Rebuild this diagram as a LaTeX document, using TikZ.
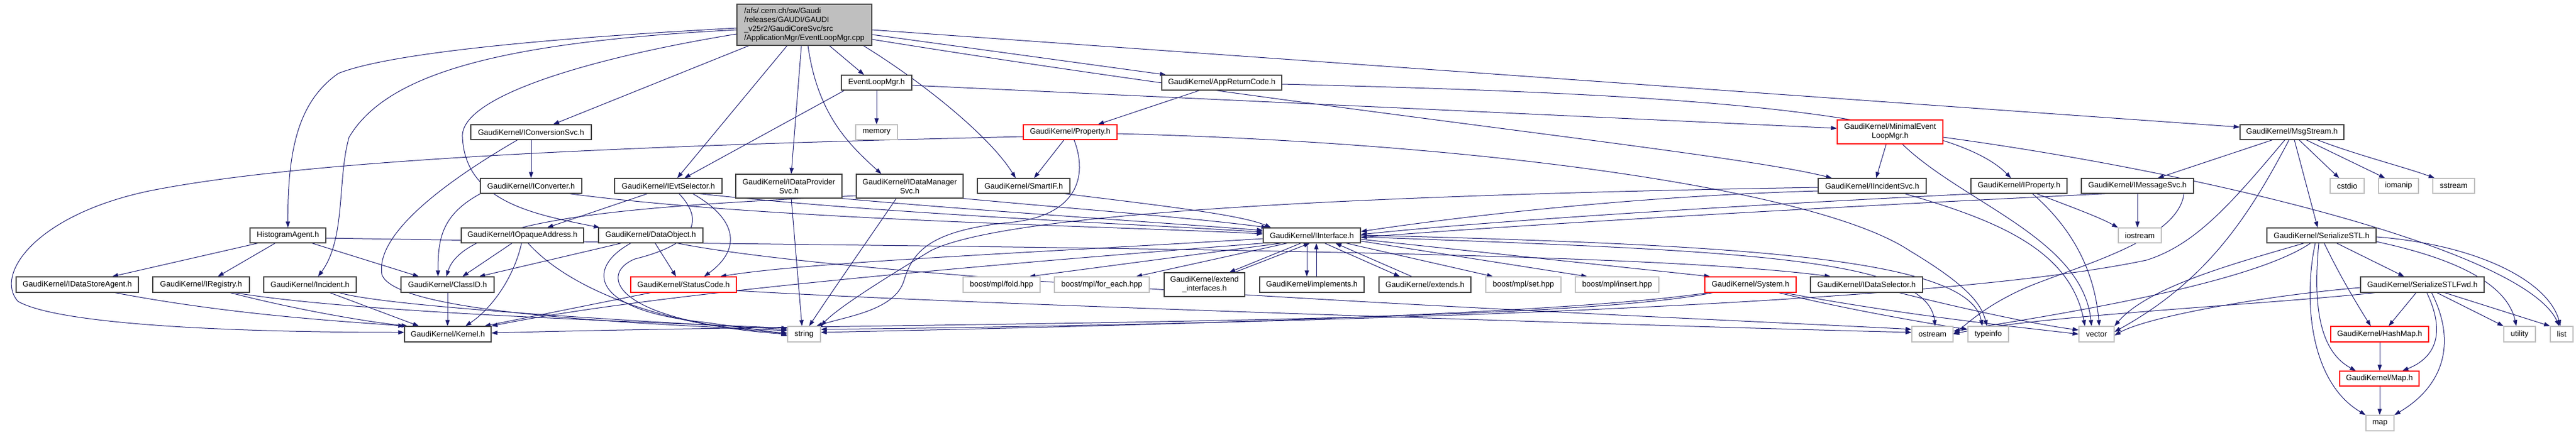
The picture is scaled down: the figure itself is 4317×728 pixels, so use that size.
\documentclass[tikz,border=0pt]{standalone}
\usepackage{fontspec}
\setmainfont{Liberation Sans}
\usetikzlibrary{arrows.meta}
\definecolor{edgec}{HTML}{191970}
\definecolor{grayb}{HTML}{BFBFBF}
\definecolor{darkb}{HTML}{404040}
\pgfdeclarelayer{bg}
\pgfsetlayers{bg,main}
\tikzset{
  nb/.style={draw=darkb, line width=1.2pt, fill=white, inner sep=0pt, align=center, font=\fontsize{13}{15}\selectfont},
  ng/.style={nb, draw=grayb},
  nr/.style={nb, draw=red},
  nroot/.style={nb, fill=grayb, align=left},
  e/.style={draw=edgec, line width=1pt, -{Triangle[length=10pt,width=7pt]}},
}
\newcommand{\bx}[7]{\node[#2, minimum width={(#4-#3)*1pt}, minimum height={(#6-#5)*1pt}] (#1) at ({(#3+#4)/2},{(#5+#6)/2}) {#7};}
\begin{document}
\begin{tikzpicture}[x=1pt,y=-1pt]
\useasboundingbox (0,0) rectangle (4317,728);
% nodes
\bx{R}{nroot}{1235}{1461}{7}{76}{/afs/.cern.ch/sw/Gaudi\\/releases/GAUDI/GAUDI\\\_v25r2/GaudiCoreSvc/src\\/ApplicationMgr/EventLoopMgr.cpp}
\bx{ELM}{nb}{1410}{1528}{126}{151}{EventLoopMgr.h}
\bx{ARC}{nb}{1947}{2148}{126}{151}{GaudiKernel/AppReturnCode.h}
\bx{ICS}{nb}{789}{991}{209}{234}{GaudiKernel/IConversionSvc.h}
\bx{mem}{ng}{1434}{1504}{209}{234}{memory}
\bx{P}{nr}{1715}{1872}{209}{234}{GaudiKernel/Property.h}
\bx{MEL}{nr}{3079}{3256}{201}{241}{GaudiKernel/MinimalEvent\\LoopMgr.h}
\bx{MS}{nb}{3754}{3928}{209}{234}{GaudiKernel/MsgStream.h}
\bx{ICv}{nb}{805}{975}{299}{324}{GaudiKernel/IConverter.h}
\bx{IES}{nb}{1030}{1210}{299}{324}{GaudiKernel/IEvtSelector.h}
\bx{IDP}{nb}{1233}{1411}{292}{332}{GaudiKernel/IDataProvider\\Svc.h}
\bx{IDM}{nb}{1435}{1614}{292}{332}{GaudiKernel/IDataManager\\Svc.h}
\bx{SIF}{nb}{1638}{1793}{299}{324}{GaudiKernel/SmartIF.h}
\bx{IIS}{nb}{3047}{3228}{299}{324}{GaudiKernel/IIncidentSvc.h}
\bx{IP}{nb}{3303}{3464}{299}{324}{GaudiKernel/IProperty.h}
\bx{IMS}{nb}{3488}{3676}{299}{324}{GaudiKernel/IMessageSvc.h}
\bx{cstdio}{ng}{3905}{3962}{299}{324}{cstdio}
\bx{iomanip}{ng}{3986}{4053}{299}{324}{iomanip}
\bx{sstream}{ng}{4077}{4147}{299}{324}{sstream}
\bx{HA}{nb}{419}{546}{382}{407}{HistogramAgent.h}
\bx{IOA}{nb}{773}{978}{382}{407}{GaudiKernel/IOpaqueAddress.h}
\bx{DO}{nb}{1003}{1178}{382}{407}{GaudiKernel/DataObject.h}
\bx{II}{nb}{2117}{2280}{382}{407}{GaudiKernel/IInterface.h}
\bx{iostream}{ng}{3550}{3622}{382}{407}{iostream}
\bx{SSTL}{nb}{3799}{3982}{382}{407}{GaudiKernel/SerializeSTL.h}
\bx{IDSA}{nb}{27}{232}{464}{490}{GaudiKernel/IDataStoreAgent.h}
\bx{IReg}{nb}{256}{418}{464}{490}{GaudiKernel/IRegistry.h}
\bx{Inc}{nb}{442}{597}{464}{490}{GaudiKernel/Incident.h}
\bx{CID}{nb}{672}{828}{464}{490}{GaudiKernel/ClassID.h}
\bx{SC}{nr}{1057}{1234}{464}{490}{GaudiKernel/StatusCode.h}
\bx{fold}{ng}{1614}{1743}{464}{490}{boost/mpl/fold.hpp}
\bx{foreach}{ng}{1767}{1926}{464}{490}{boost/mpl/for\_each.hpp}
\bx{EI}{nb}{1951}{2086}{457}{497}{GaudiKernel/extend\\\_interfaces.h}
\bx{Impl}{nb}{2111}{2286}{464}{490}{GaudiKernel/implements.h}
\bx{Ext}{nb}{2311}{2465}{464}{490}{GaudiKernel/extends.h}
\bx{set}{ng}{2490}{2616}{464}{490}{boost/mpl/set.hpp}
\bx{insert}{ng}{2640}{2780}{464}{490}{boost/mpl/insert.hpp}
\bx{Sys}{nr}{2857}{3010}{464}{490}{GaudiKernel/System.h}
\bx{IDS}{nb}{3034}{3222}{464}{490}{GaudiKernel/IDataSelector.h}
\bx{SSTLF}{nb}{3956}{4163}{464}{490}{GaudiKernel/SerializeSTLFwd.h}
\bx{K}{nb}{678}{823}{547}{573}{GaudiKernel/Kernel.h}
\bx{string}{ng}{1320}{1375}{547}{573}{string}
\bx{ostream}{ng}{3204}{3273}{547}{573}{ostream}
\bx{typeinfo}{ng}{3298}{3366}{547}{573}{typeinfo}
\bx{vector}{ng}{3484}{3543}{547}{573}{vector}
\bx{HM}{nr}{3906}{4070}{547}{573}{GaudiKernel/HashMap.h}
\bx{utility}{ng}{4196}{4249}{547}{573}{utility}
\bx{list}{ng}{4274}{4312}{547}{573}{list}
\bx{Map}{nr}{3921}{4054}{622}{647}{GaudiKernel/Map.h}
\bx{map}{ng}{3965}{4012}{696}{722}{map}
\begin{pgfonlayer}{bg}
% root
\draw[e] (R.west |- 0,47) .. controls (900,65) and (650,90) .. (567,123) .. controls (500,170) and (482,250) .. (HA.north);
\draw[e] (R.west |- 0,50) .. controls (850,70) and (650,120) .. (585,230) .. controls (565,300) and (580,400) .. (Inc.north -| 533,0);
\draw[e] (R.west |- 0,57) .. controls (1000,95) and (770,160) .. (775,230) .. controls (780,340) and (900,360) .. (DO.north -| 1005,0);
\draw[e] (R.south -| 1255,0) -- (ICS.north -| 927,0);
\draw[e] (R.south -| 1319,0) -- (IES.north -| 1135,0);
\draw[e] (R.south -| 1343,0) -- (IDP.north -| 1326,0);
\draw[e] (R.south -| 1354,0) .. controls (1370,190) and (1420,240) .. (IDM.north -| 1477,0);
\draw[e] (R.south -| 1390,0) -- (ELM.north -| 1448,0);
\draw[e] (R.south -| 1447,0) .. controls (1550,140) and (1660,230) .. (SIF.north -| 1702,0);
\draw[e] (R.east |- 0,58) -- (ARC.north -| 1954,0);
\draw[e] (R.east |- 0,50) -- (MS.west |- 0,213);
\draw[e] (R.east |- 0,66) .. controls (2200,185) and (2900,255) .. (IIS.north -| 3070,0);
% EventLoopMgr.h
\draw[e] (ELM.south -| 1415,0) -- (IES.north -| 1147,0);
\draw[e] (ELM.south -| 1469,0) -- (mem.north -| 1469,0);
\draw[e] (ELM.east |- 0,143) -- (MEL.west |- 0,215);
% AppReturnCode
\draw[e] (ARC.south -| 2010,0) -- (P.north -| 1840,0);
\draw[e] (ARC.east |- 0,141) .. controls (2700,155) and (3250,175) .. (IP.north -| 3370,0);
% Property
\draw[e] (P.south -| 1783,0) -- (SIF.north -| 1733,0);
\draw[e] (P.west |- 0,229) .. controls (1000,245) and (500,270) .. (250,320) .. controls (60,360) and (-10,460) .. (30,505) .. controls (100,545) and (400,557) .. (K.west |- 0,557);
\draw[e] (P.south -| 1800,0) .. controls (1825,300) and (1800,360) .. (1700,372) .. controls (1560,385) and (1530,420) .. (1515,470) .. controls (1500,520) and (1420,530) .. (string.north -| 1368,0);
\draw[e] (P.east |- 0,224) .. controls (2500,240) and (3050,320) .. (3200,420) .. controls (3300,480) and (3320,510) .. (typeinfo.north -| 3330,0);
% MinimalEventLoopMgr
\draw[e] (MEL.south -| 3161,0) -- (IIS.north -| 3144,0);
\draw[e] (MEL.south -| 3188,0) .. controls (3290,340) and (3490,400) .. (vector.north -| 3505,0);
\draw[e] (MEL.east |- 0,230) .. controls (3700,290) and (4230,420) .. (list.north -| 4289,0);
% MsgStream
\draw[e] (MS.south -| 3808,0) -- (IMS.north -| 3616,0);
\draw[e] (MS.south -| 3853,0) -- (cstdio.north -| 3920,0);
\draw[e] (MS.south -| 3865,0) -- (iomanip.north -| 3997,0);
\draw[e] (MS.south -| 3884,0) .. controls (3950,260) and (4030,280) .. (sstream.north -| 4080,0);
\draw[e] (MS.south -| 3845,0) -- (SSTL.north -| 3884,0);
\draw[e] (MS.south -| 3829,0) .. controls (3740,340) and (3680,410) .. (3597,436) .. controls (3200,520) and (2000,545) .. (string.east |- 0,552);
\draw[e] (MS.south -| 3836,0) .. controls (3770,360) and (3700,470) .. (vector.east |- 0,556);
% IConversionSvc, IConverter, IEvtSelector, IData*
\draw[e] (ICS.south -| 890,0) -- (ICv.north -| 890,0);
\draw[e] (ICS.south -| 867,0) .. controls (720,320) and (630,400) .. (640,460) .. controls (660,520) and (1000,540) .. (string.west |- 0,554);
\draw[e] (ICv.south -| 805,0) .. controls (740,360) and (734,400) .. (CID.north -| 734,0);
\draw[e] (ICv.south -| 954,0) .. controls (1300,370) and (1900,380) .. (II.west |- 0,392);
\draw[e] (IES.south -| 1085,0) -- (IOA.north -| 917,0);
\draw[e] (IES.south -| 1161,0) .. controls (1240,370) and (1240,420) .. (SC.north -| 1180,0);
\draw[e] (IES.south -| 1138,0) .. controls (1200,390) and (1120,420) .. (1064,434) .. controls (1000,460) and (1030,540) .. (string.west |- 0,558);
\draw[e] (IES.south -| 1172,0) .. controls (1500,360) and (1900,375) .. (II.west |- 0,389);
\draw[e] (IDP.south -| 1326,0) -- (string.north -| 1344,0);
\draw[e] (IDP.south -| 1411,0) .. controls (1600,350) and (1900,370) .. (II.west |- 0,386);
\draw[e] (IDM.west |- 0,328) .. controls (1100,345) and (780,360) .. (CID.north -| 748,0);
\draw[e] (IDM.south -| 1502,0) .. controls (1470,380) and (1400,480) .. (string.north -| 1356,0);
\draw[e] (IDM.south -| 1614,0) .. controls (1800,350) and (2000,365) .. (II.north -| 2124,0);
\draw[e] (SIF.south -| 1784,0) .. controls (1950,345) and (2080,360) .. (II.north -| 2130,0);
% right-hand interfaces
\draw[e] (IIS.west |- 0,320) .. controls (2700,330) and (2400,370) .. (II.east |- 0,388);
\draw[e] (IIS.west |- 0,314) .. controls (2400,325) and (1700,350) .. (1560,420) .. controls (1460,480) and (1400,520) .. (string.north east);
\draw[e] (IIS.south -| 3192,0) .. controls (3350,370) and (3470,420) .. (vector.north -| 3494,0);
\draw[e] (IP.south -| 3311,0) .. controls (2900,345) and (2500,370) .. (II.east |- 0,393);
\draw[e] (IP.south -| 3406,0) .. controls (3470,380) and (3510,450) .. (vector.north -| 3518,0);
\draw[e] (IP.south -| 3413,0) .. controls (3480,350) and (3520,365) .. (iostream.north west);
\draw[e] (IMS.south -| 3530,0) .. controls (3000,350) and (2500,380) .. (II.east |- 0,398);
\draw[e] (IMS.south -| 3582,0) -- (iostream.north -| 3582,0);
\draw[e] (IMS.south -| 3660,0) .. controls (3650,400) and (3500,440) .. (3400,480) .. controls (3330,510) and (3300,540) .. (ostream.east);
% HistogramAgent
\draw[e] (HA.south -| 432,0) -- (IDSA.north -| 188,0);
\draw[e] (HA.south -| 461,0) -- (IReg.north -| 365,0);
\draw[e] (HA.south -| 523,0) -- (CID.north -| 702,0);
\draw[e] (HA.east |- 0,399) .. controls (1500,415) and (2700,415) .. (IDS.north -| 3068,0);
% lower-left
\draw[e] (IDSA.south -| 193,0) .. controls (400,530) and (600,540) .. (K.north west);
\draw[e] (IReg.south -| 386,0) .. controls (500,520) and (620,540) .. (K.north -| 683,0);
\draw[e] (IReg.south -| 394,0) .. controls (600,525) and (1100,540) .. (string.west |- 0,550);
\draw[e] (Inc.south -| 553,0) -- (K.north -| 702,0);
\draw[e] (Inc.south -| 569,0) .. controls (650,515) and (1100,540) .. (string.west |- 0,552);
\draw[e] (CID.south -| 750,0) -- (K.north -| 750,0);
\draw[e] (IOA.south -| 858,0) -- (CID.north -| 775,0);
\draw[e] (IOA.south -| 874,0) .. controls (860,470) and (820,520) .. (K.north -| 780,0);
\draw[e] (IOA.south -| 885,0) .. controls (950,480) and (1100,545) .. (string.west |- 0,560);
\draw[e] (DO.south -| 1041,0) -- (CID.north -| 803,0);
\draw[e] (DO.south -| 1098,0) -- (SC.north -| 1133,0);
\draw[e] (DO.south -| 1057,0) .. controls (980,450) and (990,520) .. (1180,540) .. controls (1250,550) and (1300,556) .. (string.west |- 0,563);
\draw[e] (DO.south -| 1135,0) .. controls (1500,480) and (3000,540) .. (ostream.west |- 0,552);
\draw[e] (SC.south -| 1090,0) -- (K.north -| 812,0);
\draw[e] (SC.east |- 0,487) .. controls (1600,510) and (2900,550) .. (ostream.west |- 0,557);
% IInterface
\draw[e] (II.south west) .. controls (1700,440) and (1100,490) .. (K.north east);
\draw[e] (II.west |- 0,400) .. controls (1700,425) and (1350,440) .. (SC.north -| 1207,0);
\draw[e] (II.south -| 2147,0) -- (fold.north -| 1725,0);
\draw[e] (II.south -| 2157,0) -- (foreach.north -| 1904,0);
\draw[e] (II.south -| 2180,0) -- (EI.north -| 2060,0);
\draw[e] (EI.north -| 2069,0) -- (II.south -| 2195,0);
\draw[e] (II.south -| 2190,0) -- (Impl.north -| 2190,0);
\draw[e] (Impl.north -| 2206,0) -- (II.south -| 2206,0);
\draw[e] (II.south -| 2220,0) -- (Ext.north -| 2346,0);
\draw[e] (Ext.north -| 2366,0) -- (II.south -| 2238,0);
\draw[e] (II.south -| 2256,0) -- (set.north -| 2502,0);
\draw[e] (II.east |- 0,404) -- (insert.north -| 2660,0);
\draw[e] (II.east |- 0,401) -- (Sys.north -| 2866,0);
\draw[e] (II.east |- 0,397) .. controls (2900,420) and (3230,430) .. (ostream.north -| 3243,0);
\draw[e] (II.east |- 0,394) .. controls (2900,410) and (3300,430) .. (typeinfo.north -| 3322,0);
% System, IDataSelector
\draw[e] (Sys.south -| 2862,0) .. controls (2600,530) and (1800,548) .. (string.east |- 0,557);
\draw[e] (Sys.south -| 2870,0) .. controls (2600,545) and (1500,540) .. (K.east |- 0,558);
\draw[e] (Sys.south -| 2981,0) .. controls (3100,520) and (3250,545) .. (typeinfo.west |- 0,552);
\draw[e] (Sys.south -| 2990,0) .. controls (3200,530) and (3400,550) .. (vector.west |- 0,560);
\draw[e] (IDS.south -| 3183,0) .. controls (3300,520) and (3420,545) .. (vector.west |- 0,553);
% SerializeSTL
\draw[e] (SSTL.south -| 3916,0) -- (SSTLF.north -| 4029,0);
\draw[e] (SSTL.south -| 3895,0) .. controls (3920,460) and (3950,510) .. (HM.north -| 3973,0);
\draw[e] (SSTL.south -| 3886,0) .. controls (3875,520) and (3890,590) .. (Map.north -| 3948,0);
\draw[e] (SSTL.south -| 3880,0) .. controls (3860,500) and (3870,640) .. (map.north west);
\draw[e] (SSTL.east |- 0,405) .. controls (4100,430) and (4200,470) .. (utility.north -| 4217,0);
\draw[e] (SSTL.east |- 0,397) .. controls (4150,410) and (4270,470) .. (list.north -| 4291,0);
\draw[e] (SSTL.south -| 3861,0) .. controls (3750,440) and (3600,480) .. (vector.north east);
\draw[e] (SSTL.south -| 3872,0) .. controls (3780,470) and (3500,520) .. (ostream.east |- 0,555);
\draw[e] (SSTLF.south -| 4049,0) -- (HM.north -| 4003,0);
\draw[e] (SSTLF.south -| 4067,0) .. controls (4100,560) and (4080,600) .. (Map.north -| 4026,0);
\draw[e] (SSTLF.south -| 4075,0) .. controls (4120,580) and (4090,650) .. (map.north east);
\draw[e] (SSTLF.south -| 4084,0) -- (utility.north west);
\draw[e] (SSTLF.south -| 4097,0) -- (list.north west);
\draw[e] (SSTLF.west |- 0,482) .. controls (3800,495) and (3600,530) .. (vector.east |- 0,562);
\draw[e] (SSTLF.south -| 3980,0) .. controls (3800,510) and (3400,530) .. (ostream.east |- 0,560);
\draw[e] (HM.south -| 3988,0) -- (Map.north -| 3988,0);
\draw[e] (Map.south -| 3988,0) -- (map.north -| 3988,0);
\end{pgfonlayer}
\end{tikzpicture}
\end{document}
